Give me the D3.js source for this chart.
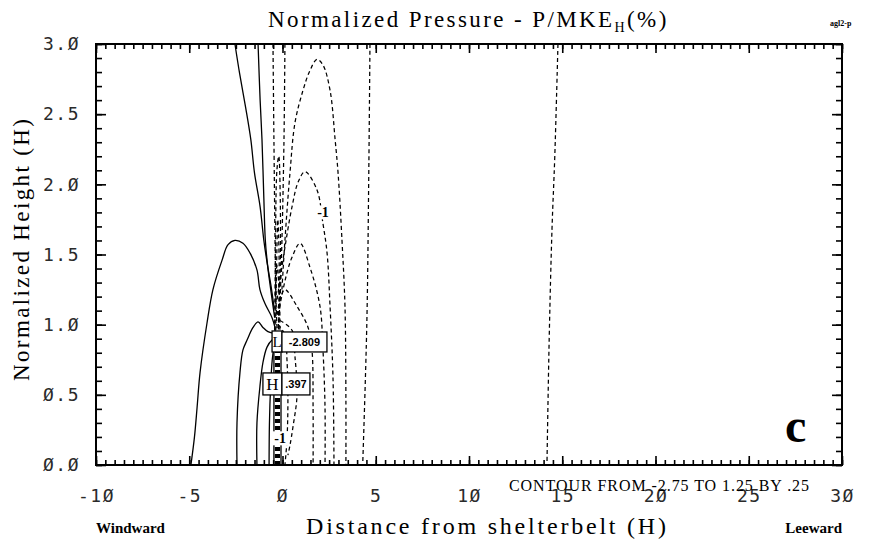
<!DOCTYPE html>
<html>
<head>
<meta charset="utf-8">
<script src="https://cdn.jsdelivr.net/npm/d3@7"></script>
<style>
  body { margin: 0; background: #fff; }
  svg { display: block; }
</style>
</head>
<body>
<svg id="chart" width="873" height="542"></svg>
<script>
// axis values
const xTickLabels = [-10, -5, 0, 5, 10, 15, 20, 25, 30];
const yTickLabels = [0, 0.5, 1, 1.5, 2, 2.5, 3];
const xMinorTicks = d3.range(-10, 30.01, 0.5);
const yMinorTicks = d3.range(0, 3.001, 0.1);

// contour traces (x in H, y in H)
const solidTopA = [[-2.55, 3.0], [-2.30, 2.79], [-1.98, 2.55], [-1.70, 2.32], [-1.50, 2.08], [-1.20, 1.84], [-1.00, 1.60], [-0.80, 1.42], [-0.62, 1.28], [-0.45, 1.12]];
const solidTopB = [[-1.31, 3.0], [-1.20, 2.60], [-1.10, 2.32], [-1.00, 1.90], [-0.92, 1.60], [-0.78, 1.40], [-0.60, 1.22], [-0.42, 1.05]];
const solidArchOuter = [[-4.91, 0], [-4.72, 0.20], [-4.58, 0.41], [-4.42, 0.66], [-4.05, 1.01], [-3.73, 1.25], [-3.24, 1.46], [-2.92, 1.57], [-2.55, 1.60], [-2.12, 1.58], [-1.74, 1.51], [-1.37, 1.39], [-1.21, 1.25], [-0.94, 1.15], [-0.56, 1.05], [-0.40, 0.98]];
const solidArchMid = [[-2.44, 0], [-2.44, 0.30], [-2.28, 0.66], [-2.12, 0.82], [-1.90, 0.89], [-1.58, 0.98], [-1.31, 1.02], [-1.05, 0.98], [-0.78, 0.95], [-0.51, 0.94]];
const solidArchInner = [[-1.37, 0], [-1.37, 0.30], [-1.21, 0.56], [-1.05, 0.73], [-0.83, 0.84], [-0.56, 0.89], [-0.40, 0.90]];
const solidInnermost = [[-0.72, 0], [-0.70, 0.30], [-0.64, 0.55], [-0.55, 0.75], [-0.45, 0.85]];
const beltEdgeW = [[-0.46, 0], [-0.46, 0.93]];
const beltEdgeE = [[-0.08, 0], [-0.08, 0.93]];
const beltCoreA = [[-0.35, 0], [-0.35, 0.93]];
const beltCoreB = [[-0.27, 0], [-0.27, 0.93]];
const beltCoreC = [[-0.19, 0], [-0.19, 0.93]];

const dashLevel025 = [[14.77, 3.0], [14.60, 2.20], [14.45, 1.68], [14.30, 0.90], [14.18, 0]];
const dashLevel050 = [[4.69, 3.0], [4.62, 2.0], [4.52, 1.0], [4.30, 0]];
const dashLevel075 = [[-0.03, 1.25], [0.13, 1.60], [0.40, 2.08], [0.67, 2.44], [1.10, 2.67], [1.47, 2.81], [1.85, 2.89], [2.17, 2.85], [2.55, 2.67], [2.82, 2.32], [2.98, 2.08], [3.19, 1.60], [3.35, 1.13], [3.40, 0.46], [3.40, 0]];
const dashLevel100 = [[-0.29, 1.18], [-0.13, 1.32], [0.13, 1.55], [0.51, 1.84], [0.85, 2.02], [1.21, 2.09], [1.85, 1.96], [2.17, 1.72], [2.39, 1.51], [2.55, 1.13], [2.71, 0.61], [2.76, 0]];
const dashLevel125 = [[-0.24, 1.07], [-0.03, 1.21], [0.24, 1.37], [0.51, 1.48], [0.94, 1.58], [1.47, 1.41], [2.01, 1.13], [2.17, 0.82], [2.28, 0.41], [2.28, 0]];
const dashLevel150 = [[-0.29, 1.07], [-0.13, 1.18], [0.13, 1.25], [0.78, 1.13], [1.37, 0.98], [1.58, 0.82], [1.64, 0.41], [1.64, 0]];
const dashLevel175 = [[-0.13, 1.03], [0.51, 0.96], [0.67, 0.77], [0.78, 0.50], [0.56, 0.27], [0.40, 0.14], [0.29, 0.07]];
const dashLevel200 = [[-0.24, 1.0], [0.13, 0.93], [0.24, 0.75], [0.29, 0.46], [0.24, 0.18], [0.13, 0]];
const dashTopA = [[-0.51, 3.0], [-0.46, 2.32], [-0.40, 1.60], [-0.35, 1.18], [-0.29, 0.96]];
const dashTopB = [[0.13, 3.0], [0.08, 2.32], [-0.03, 1.60], [-0.13, 1.18], [-0.24, 0.96]];
const dashLoopTall = [[-0.42, 0.96], [-0.38, 1.5], [-0.30, 2.1], [-0.20, 2.2], [-0.12, 1.9], [-0.12, 1.4], [-0.20, 0.96]];
const dashLoopShort = [[-0.36, 0.96], [-0.32, 1.4], [-0.25, 1.75], [-0.18, 1.45], [-0.22, 0.96]];
const dashLoopLow = [[-0.40, 0.95], [-0.38, 1.20], [-0.30, 1.42], [-0.16, 1.20], [-0.14, 0.95]];

const solidLines = [solidTopA, solidTopB, solidArchOuter, solidArchMid, solidArchInner, solidInnermost, beltEdgeW, beltEdgeE];
const dashedLines = [dashLevel025, dashLevel050, dashLevel075, dashLevel100, dashLevel125, dashLevel150, dashLevel175, dashLevel200, dashTopA, dashTopB, dashLoopTall, dashLoopShort, dashLoopLow];
const beltLines = [beltCoreA, beltCoreB, beltCoreC];

const svg = d3.select("#chart");
const x = d3.scaleLinear().domain([-10, 30]).range([96, 842]);
const y = d3.scaleLinear().domain([0, 3]).range([465, 44]);

const fmtX = d => String(d).replace(/0/g, "Ø");
const fmtY = d => d.toFixed(1).replace(/0/g, "Ø");
const monoFont = "'DejaVu Sans Mono', monospace";
const serifFont = "'Liberation Serif', 'Times New Roman', serif";

const line = d3.line()
    .x(d => x(d[0]))
    .y(d => y(d[1]))
    .curve(d3.curveCatmullRom.alpha(0.5));

const plot = svg.append("g");

plot.selectAll(".solid")
    .data(solidLines)
    .join("path")
    .attr("class", "solid")
    .attr("d", line)
    .attr("fill", "none")
    .attr("stroke", "#000")
    .attr("stroke-width", 1.3);

plot.selectAll(".dashed")
    .data(dashedLines)
    .join("path")
    .attr("class", "dashed")
    .attr("d", line)
    .attr("fill", "none")
    .attr("stroke", "#000")
    .attr("stroke-width", 1.25)
    .attr("stroke-dasharray", "4,3");

plot.selectAll(".belt")
    .data(beltLines)
    .join("path")
    .attr("class", "belt")
    .attr("d", d3.line().x(d => x(d[0])).y(d => y(d[1])))
    .attr("fill", "none")
    .attr("stroke", "#000")
    .attr("stroke-width", 2.2)
    .attr("stroke-dasharray", "4,3");

// boxed labels (H / L markers)
const boxes = [
    { x: -0.56, y: 0.955, w: 10, h: 21, text: "L", font: serifFont, size: 15, weight: "normal" },
    { x: -0.03, y: 0.948, w: 45, h: 20, text: "-2.809", font: "'Liberation Sans', Arial, sans-serif", size: 11, weight: "bold" },
    { x: -1.05, y: 0.656, w: 19, h: 22, text: "H", font: serifFont, size: 17, weight: "normal" },
    { x: -0.03, y: 0.656, w: 28, h: 22, text: ".397", font: "'Liberation Sans', Arial, sans-serif", size: 11, weight: "bold" }
];
const bx = plot.selectAll(".box").data(boxes).join("g").attr("class", "box");
bx.append("rect")
    .attr("x", d => x(d.x))
    .attr("y", d => y(d.y))
    .attr("width", d => d.w)
    .attr("height", d => d.h)
    .attr("fill", "#fff")
    .attr("stroke", "#000")
    .attr("stroke-width", 1.3);
bx.append("text")
    .attr("x", d => x(d.x) + d.w / 2)
    .attr("y", d => y(d.y) + d.h / 2)
    .attr("dy", "0.36em")
    .attr("text-anchor", "middle")
    .attr("font-family", d => d.font)
    .attr("font-size", d => d.size)
    .attr("font-weight", d => d.weight)
    .text(d => d.text);

// contour value labels
const levelLabels = [
    { x: 2.17, y: 1.80, text: "-1" },
    { x: -0.13, y: 0.19, text: "-1" }
];
const ll = plot.selectAll(".lvl").data(levelLabels).join("g").attr("class", "lvl");
ll.append("rect")
    .attr("x", d => x(d.x) - 9)
    .attr("y", d => y(d.y) - 7)
    .attr("width", 18)
    .attr("height", 14)
    .attr("fill", "#fff");
ll.append("text")
    .attr("x", d => x(d.x))
    .attr("y", d => y(d.y))
    .attr("dy", "0.35em")
    .attr("text-anchor", "middle")
    .attr("font-family", serifFont)
    .attr("font-weight", "bold")
    .attr("font-size", 14)
    .text(d => d.text);

// axes with inward ticks on all four sides
function styleAxis(g) {
    g.select(".domain").remove();
    g.selectAll(".tick line").attr("stroke", "#000").attr("stroke-width", 1.6);
    g.selectAll("text")
        .attr("font-family", monoFont)
        .attr("font-size", 18)
        .attr("letter-spacing", 1.5)
        .attr("fill", "#2a2a2a");
}
svg.append("g").attr("transform", "translate(0,465)")
    .call(d3.axisBottom(x).tickValues(xMinorTicks).tickSize(-5).tickFormat("")).call(styleAxis);
svg.append("g").attr("transform", "translate(0,465)")
    .call(d3.axisBottom(x).tickValues(xTickLabels).tickSize(-9).tickPadding(24).tickFormat(fmtX)).call(styleAxis);
svg.append("g").attr("transform", "translate(0,44)")
    .call(d3.axisTop(x).tickValues(xMinorTicks).tickSize(-5).tickFormat("")).call(styleAxis);
svg.append("g").attr("transform", "translate(0,44)")
    .call(d3.axisTop(x).tickValues(xTickLabels).tickSize(-9).tickFormat("")).call(styleAxis);
svg.append("g").attr("transform", "translate(96,0)")
    .call(d3.axisLeft(y).tickValues(yMinorTicks).tickSize(-6).tickFormat("")).call(styleAxis);
svg.append("g").attr("transform", "translate(96,0)")
    .call(d3.axisLeft(y).tickValues(yTickLabels).tickSize(-10).tickPadding(16).tickFormat(fmtY)).call(styleAxis);
svg.append("g").attr("transform", "translate(842,0)")
    .call(d3.axisRight(y).tickValues(yMinorTicks).tickSize(-6).tickFormat("")).call(styleAxis);
svg.append("g").attr("transform", "translate(842,0)")
    .call(d3.axisRight(y).tickValues(yTickLabels).tickSize(-10).tickFormat("")).call(styleAxis);

svg.append("rect")
    .attr("x", x(-10))
    .attr("y", y(3))
    .attr("width", x(30) - x(-10))
    .attr("height", y(0) - y(3))
    .attr("fill", "none")
    .attr("stroke", "#000")
    .attr("stroke-width", 2);

// titles and notes
const title = svg.append("text")
    .attr("x", 268)
    .attr("y", 27)
    .attr("font-family", serifFont)
    .attr("font-size", 23)
    .attr("letter-spacing", 2.4);
title.append("tspan").text("Normalized Pressure  -  P/MKE");
title.append("tspan").attr("font-size", 14).attr("dy", 5).text("H");
title.append("tspan").attr("dy", -5).text("(%)");

svg.append("text")
    .attr("x", 830)
    .attr("y", 26)
    .attr("font-family", serifFont)
    .attr("font-weight", "bold")
    .attr("font-size", 8)
    .text("agl2-p");

svg.append("text")
    .attr("transform", "translate(29,250) rotate(-90)")
    .attr("text-anchor", "middle")
    .attr("font-family", serifFont)
    .attr("font-size", 23)
    .attr("textLength", 262)
    .attr("lengthAdjust", "spacing")
    .text("Normalized Height (H)");

svg.append("text")
    .attr("x", 486)
    .attr("y", 534)
    .attr("text-anchor", "middle")
    .attr("font-family", serifFont)
    .attr("font-size", 24)
    .attr("textLength", 360)
    .attr("lengthAdjust", "spacing")
    .text("Distance from shelterbelt (H)");

svg.append("text")
    .attr("x", 96)
    .attr("y", 533)
    .attr("font-family", serifFont)
    .attr("font-weight", "bold")
    .attr("font-size", 15)
    .text("Windward");

svg.append("text")
    .attr("x", 842)
    .attr("y", 533)
    .attr("text-anchor", "end")
    .attr("font-family", serifFont)
    .attr("font-weight", "bold")
    .attr("font-size", 15)
    .text("Leeward");

svg.append("text")
    .attr("x", 659)
    .attr("y", 491)
    .attr("text-anchor", "middle")
    .attr("font-family", serifFont)
    .attr("font-size", 16)
    .attr("textLength", 300)
    .attr("lengthAdjust", "spacing")
    .text("CONTOUR FROM -2.75 TO 1.25 BY .25");

svg.append("text")
    .attr("x", 785)
    .attr("y", 442)
    .attr("font-family", serifFont)
    .attr("font-weight", "bold")
    .attr("font-size", 48)
    .text("c");
</script>
</body>
</html>
